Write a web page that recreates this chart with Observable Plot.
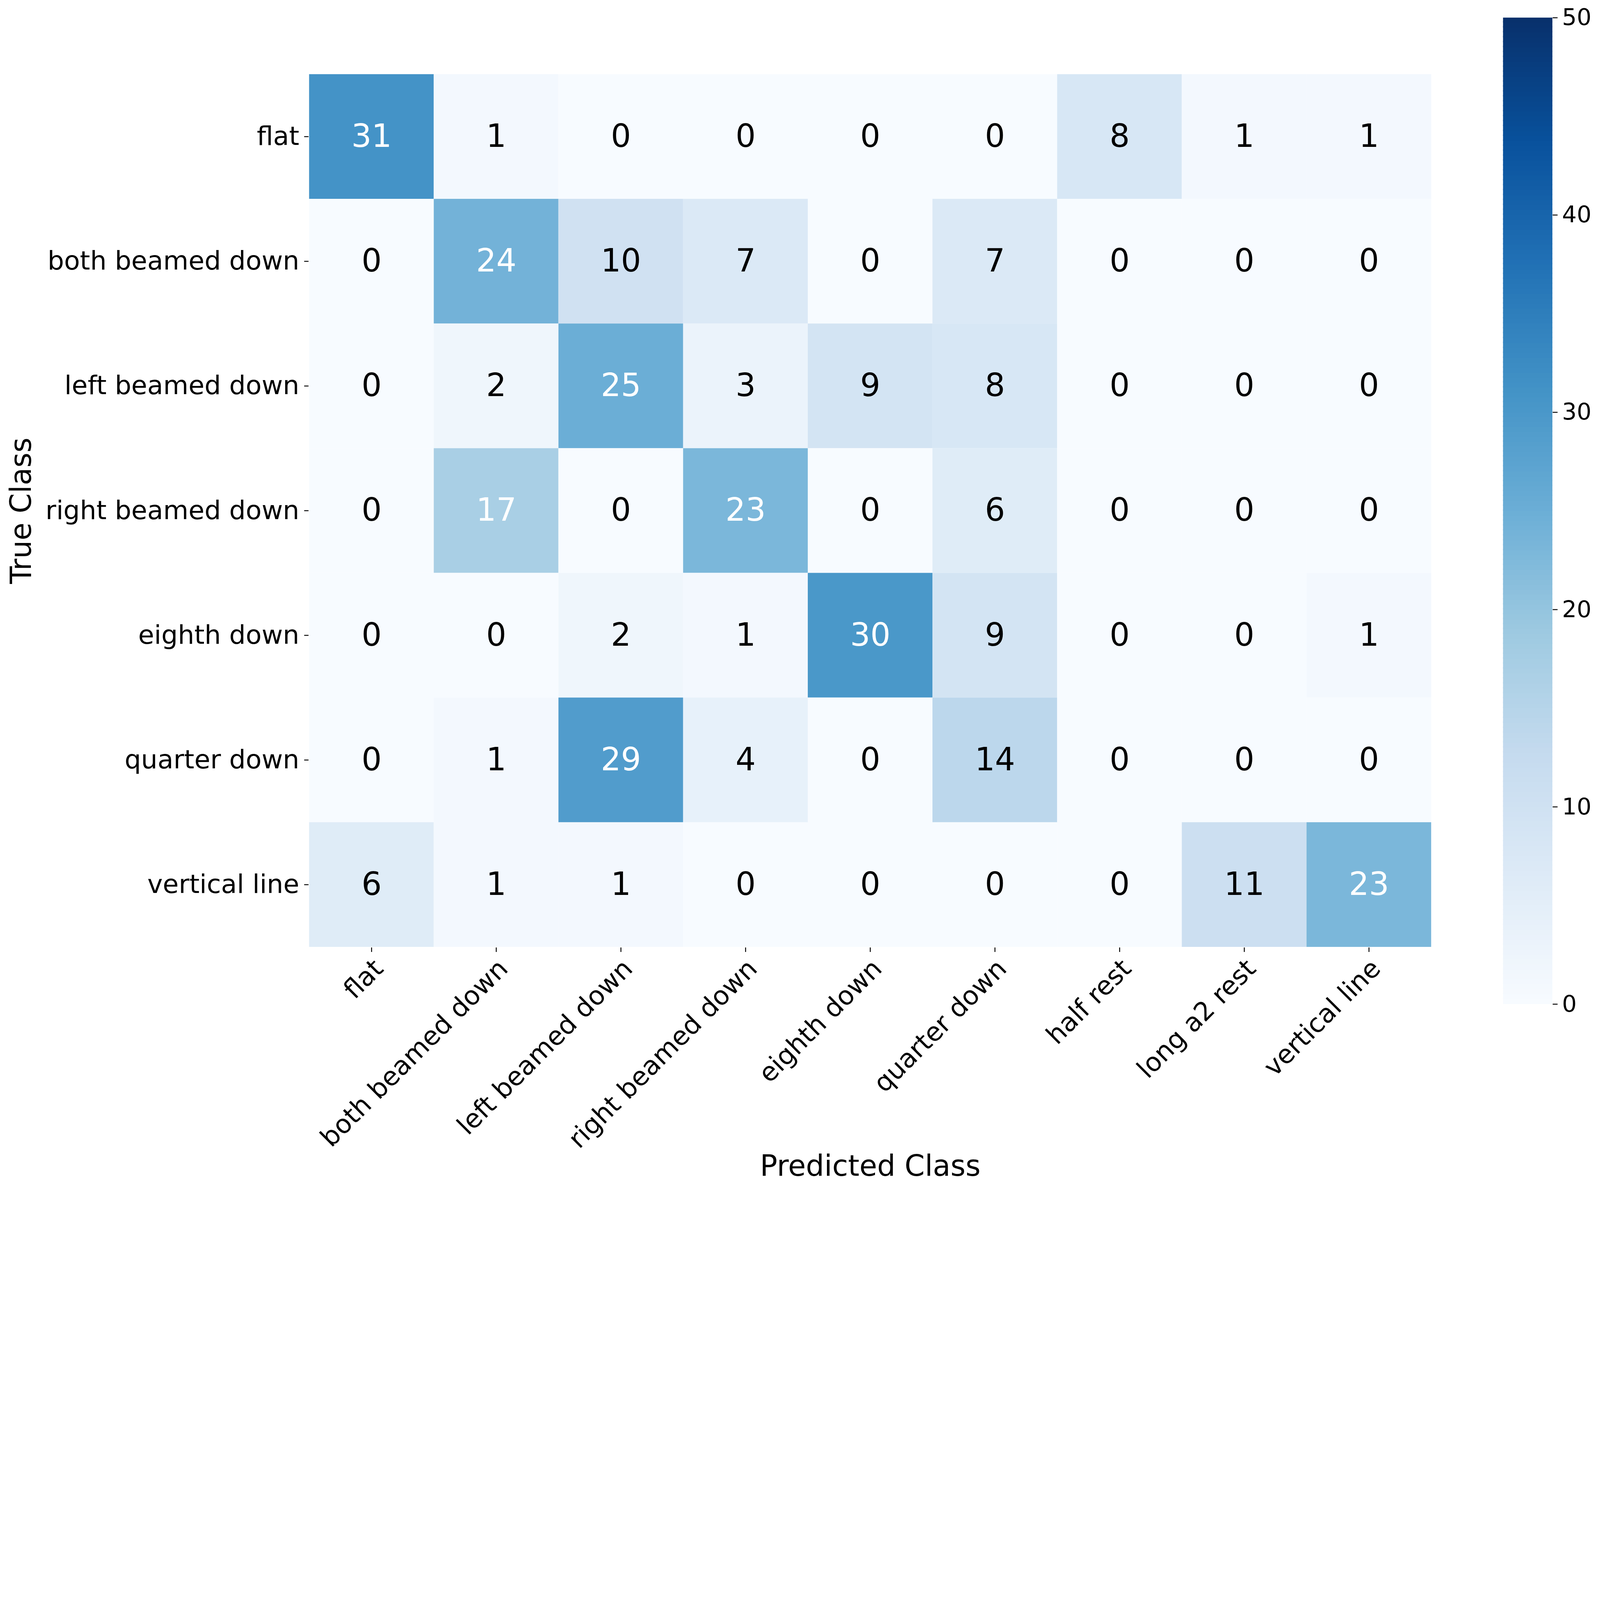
<!DOCTYPE html>
<html>
<head>
<meta charset="utf-8">
<script src="https://cdn.jsdelivr.net/npm/d3@7"></script>
<script src="https://cdn.jsdelivr.net/npm/@observablehq/plot@0.6"></script>
<style>
  html, body { margin: 0; padding: 0; background: #ffffff; overflow: hidden; }
  #chart { position: relative; width: 5544px; height: 4154px; background: #ffffff; font-family: "DejaVu Sans", sans-serif; transform-origin: 0 0; }
  #chart svg { position: absolute; top: 0; overflow: visible; }
</style>
</head>
<body>
<div id="chart"></div>
<script>
const trueClasses = ["flat", "both beamed down", "left beamed down", "right beamed down", "eighth down", "quarter down", "vertical line"];
const predictedClasses = ["flat", "both beamed down", "left beamed down", "right beamed down", "eighth down", "quarter down", "half rest", "long a2 rest", "vertical line"];
const counts = [
  [31, 1, 0, 0, 0, 0, 8, 1, 1],
  [0, 24, 10, 7, 0, 7, 0, 0, 0],
  [0, 2, 25, 3, 9, 8, 0, 0, 0],
  [0, 17, 0, 23, 0, 6, 0, 0, 0],
  [0, 0, 2, 1, 30, 9, 0, 0, 1],
  [0, 1, 29, 4, 0, 14, 0, 0, 0],
  [6, 1, 1, 0, 0, 0, 0, 11, 23]
];
const colorbarTicks = [0, 10, 20, 30, 40, 50];
const blues = ["#f7fbff", "#deebf7", "#c6dbef", "#9ecae1", "#6baed6", "#4292c6", "#2171b5", "#08519c", "#08306b"];

const vmax = 50;
const colorDomain = blues.map((_, i) => i * vmax / (blues.length - 1));
const colorScale = {type: "linear", domain: colorDomain, range: blues, interpolate: "rgb"};

const cells = [];
trueClasses.forEach((t, i) => predictedClasses.forEach((p, j) => cells.push({true: t, pred: p, value: counts[i][j]})));
const maxVal = d3.max(cells, d => d.value);
const thresh = (maxVal + d3.min(cells, d => d.value)) / 2;

const font = "DejaVu Sans";
const chart = document.getElementById("chart");

const main = Plot.plot({
  width: 5100,
  height: 4154,
  marginLeft: 1069,
  marginRight: 139,
  marginTop: 255,
  marginBottom: 871,
  style: {fontFamily: font, background: "transparent", color: "black"},
  x: {domain: predictedClasses, padding: 0, axis: null},
  y: {domain: trueClasses, padding: 0, axis: null},
  color: colorScale,
  marks: [
    Plot.cell(cells, {x: "pred", y: "true", fill: "value", inset: 0}),
    Plot.text(cells, {x: "pred", y: "true", text: d => String(d.value), fill: d => d.value > thresh ? "white" : "black", fontSize: 110, fontFamily: font}),
    Plot.axisX({anchor: "bottom", tickSize: 15.5, tickPadding: 17.5, tickRotate: -45, textAnchor: "end", lineAnchor: "top", fontSize: 90, fontFamily: font, strokeWidth: 3.2, label: null}),
    Plot.axisY({anchor: "left", tickSize: 15, tickPadding: 17.5, fontSize: 90, fontFamily: font, strokeWidth: 3.2, label: null}),
    Plot.text(["Predicted Class"], {frameAnchor: "bottom", textAnchor: "middle", dy: 790, fontSize: 100, fontFamily: font, fill: "black"}),
    Plot.text(["True Class"], {frameAnchor: "left", textAnchor: "middle", lineAnchor: "middle", dx: -995, rotate: -90, fontSize: 100, fontFamily: font, fill: "black"})
  ]
});
main.style.left = "0px";
chart.appendChild(main);

const step = 0.25;
const ramp = d3.range(0, vmax, step);
const bar = Plot.plot({
  width: 444,
  height: 4154,
  marginLeft: 108,
  marginRight: 165,
  marginTop: 61,
  marginBottom: 675,
  style: {fontFamily: font, background: "transparent", color: "black"},
  x: {domain: [0, 1], axis: null},
  y: {domain: [0, vmax], axis: null},
  color: colorScale,
  marks: [
    Plot.rect(ramp, {x1: 0, x2: 1, y1: d => d, y2: d => Math.min(vmax, d + step * 1.3), fill: d => d + step / 2, inset: 0}),
    Plot.axisY({anchor: "right", ticks: colorbarTicks, tickSize: 17, tickPadding: 16, fontSize: 80, fontFamily: font, strokeWidth: 3.2, label: null, tickFormat: d => String(d)})
  ]
});
bar.style.left = "5100px";
chart.appendChild(bar);

// The browser window may be smaller than the 5544x4154 design; scale uniformly to fit.
function fit() {
  const s = Math.min(1, window.innerWidth / 5544, window.innerHeight / 4154);
  chart.style.transform = s < 1 ? `scale(${s})` : "";
}
fit();
window.addEventListener("resize", fit);
</script>
</body>
</html>
